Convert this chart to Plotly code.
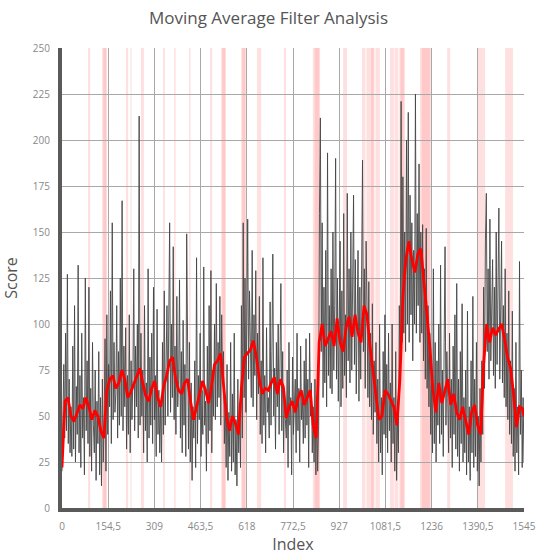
import plotly.graph_objects as go

# ---------------- data ----------------
raw_step = 3
raw_scores = [
    20, 45, 78, 38, 95, 42, 127, 35, 70, 30,
    55, 28, 88, 32, 110, 25, 66, 40, 132, 30,
    72, 22, 95, 38, 60, 18, 125, 42, 80, 35,
    120, 28, 65, 20, 90, 45, 30, 75, 15, 58,
    35, 85, 18, 60, 12, 70, 25, 48, 92, 20,
    105, 40, 78, 55, 118, 35, 155, 48, 90, 52,
    62, 110, 38, 85, 45, 125, 50, 167, 42, 88,
    55, 98, 32, 72, 40, 105, 30, 80, 48, 70,
    130, 42, 88, 55, 100, 38, 213, 45, 95, 50,
    75, 30, 110, 42, 68, 25, 130, 38, 82, 45,
    95, 35, 120, 48, 72, 28, 108, 40, 64, 30,
    58, 25, 90, 40, 118, 45, 75, 110, 50, 98,
    155, 52, 100, 60, 142, 48, 88, 40, 115, 55,
    70, 124, 38, 85, 30, 102, 45, 78, 28, 149,
    60, 32, 90, 25, 68, 15, 55, 38, 80, 22,
    136, 35, 72, 48, 95, 28, 64, 40, 131, 45,
    58, 20, 88, 35, 110, 42, 129, 30, 75, 50,
    100, 48, 122, 55, 90, 60, 115, 45, 105, 68,
    85, 35, 60, 22, 78, 15, 52, 28, 90, 20,
    62, 25, 95, 18, 48, 12, 70, 30, 55, 22,
    110, 38, 155, 60, 125, 52, 100, 157, 70, 118,
    90, 60, 140, 55, 105, 72, 129, 48, 95, 62,
    115, 40, 80, 35, 136, 45, 72, 30, 98, 52,
    60, 38, 112, 45, 85, 138, 50, 76, 32, 90,
    55, 100, 40, 70, 122, 42, 85, 30, 65, 48,
    38, 75, 22, 90, 45, 60, 18, 82, 40, 55,
    70, 30, 95, 42, 65, 25, 88, 48, 60, 35,
    80, 38, 92, 45, 70, 22, 95, 50, 68, 30,
    55, 25, 70, 18, 60, 20, 45, 160, 212, 85,
    155, 60, 120, 68, 140, 55, 193, 72, 110, 65,
    130, 62, 150, 75, 110, 190, 70, 125, 58, 100,
    145, 55, 118, 65, 160, 72, 105, 60, 171, 80,
    130, 68, 150, 75, 115, 170, 78, 135, 62, 110,
    140, 58, 120, 70, 155, 189, 85, 130, 65, 145,
    110, 60, 123, 55, 95, 48, 111, 40, 80, 52,
    90, 35, 70, 25, 100, 30, 60, 18, 85, 40,
    105, 38, 78, 30, 95, 42, 68, 25, 100, 35,
    60, 20, 85, 15, 50, 30, 110, 75, 221, 90,
    180, 95, 150, 85, 200, 100, 215, 90, 170, 105,
    155, 80, 140, 100, 225, 95, 160, 110, 187, 90,
    150, 95, 154, 80, 130, 70, 152, 65, 110, 55,
    95, 40, 75, 30, 130, 35, 90, 25, 80, 45,
    100, 35, 132, 40, 75, 28, 90, 142, 45, 85,
    60, 30, 95, 38, 70, 22, 88, 40, 105, 32,
    122, 28, 70, 20, 85, 35, 111, 25, 60, 30,
    75, 18, 107, 25, 55, 15, 80, 30, 115, 22,
    70, 28, 90, 20, 50, 12, 65, 25, 80, 40,
    120, 65, 145, 171, 85, 130, 70, 157, 80, 110,
    135, 72, 120, 65, 150, 78, 115, 163, 70, 125,
    145, 68, 110, 60, 130, 55, 95, 48, 118, 40,
    80, 35, 107, 28, 65, 20, 90, 30, 55, 18,
    134, 40, 75, 22, 60, 25,
]
raw_index = [i * raw_step for i in range(len(raw_scores))]

avg_index = list(range(0, 1541, 10)) + [1545]
avg_scores = [
    22, 58, 60, 50, 47, 52, 56, 54, 60, 55,
    48, 53, 50, 42, 38, 64, 70, 72, 65, 68,
    75, 70, 60, 63, 67, 72, 76, 68, 61, 58,
    65, 69, 60, 55, 66, 72, 80, 82, 70, 64,
    62, 68, 70, 58, 48, 55, 62, 69, 64, 57,
    66, 78, 80, 84, 67, 50, 42, 50, 46, 40,
    65, 82, 84, 86, 91, 82, 70, 62, 65, 64,
    68, 71, 62, 70, 66, 49, 55, 58, 52, 60,
    64, 56, 60, 64, 45, 38, 90, 100, 88, 92,
    96, 88, 103, 90, 85, 98, 104, 93, 105, 95,
    90, 110, 105, 88, 75, 62, 48, 50, 64, 62,
    58, 55, 45, 70, 115, 135, 145, 135, 128, 138,
    141, 125, 106, 88, 65, 52, 68, 57, 64, 70,
    56, 62, 52, 48, 55, 47, 40, 52, 56, 45,
    40, 78, 100, 90, 98, 94, 97, 100, 92, 82,
    76, 62, 44, 55, 54, 50,
]

band_start = [87, 134, 138, 214, 229, 264, 338, 375, 425, 495, 532, 536,
              599, 603, 652, 742, 839, 845, 940, 1003, 1018, 1030, 1034,
              1048, 1097, 1112, 1128, 1132, 1197, 1203, 1288, 1391, 1482]
band_end = [94, 150, 148, 221, 233, 274, 344, 380, 430, 502, 548, 546,
            615, 613, 666, 749, 863, 860, 953, 1015, 1030, 1045, 1042,
            1063, 1110, 1125, 1147, 1143, 1237, 1230, 1298, 1415, 1508]

x_tick_vals = [0, 154.5, 309, 463.5, 618, 772.5, 927, 1081.5, 1236, 1390.5, 1545]
x_tick_text = ["0", "154,5", "309", "463,5", "618", "772,5", "927", "1081,5",
               "1236", "1390,5", "1545"]
y_tick_vals = [0, 25, 50, 75, 100, 125, 150, 175, 200, 225, 250]

# ---------------- figure ----------------
fig = go.Figure()

fig.add_trace(go.Scatter(
    x=raw_index, y=raw_scores, mode="lines",
    line=dict(color="rgba(70,70,70,0.9)", width=1),
    showlegend=False, hoverinfo="skip",
))
fig.add_trace(go.Scatter(
    x=avg_index, y=avg_scores, mode="lines",
    line=dict(color="#ff0000", width=2.8),
    showlegend=False, hoverinfo="skip",
))

for s, e in zip(band_start, band_end):
    fig.add_shape(type="rect", xref="x", yref="y", x0=s, x1=e, y0=0, y1=250,
                  fillcolor="rgba(255,130,130,0.25)", line=dict(width=0),
                  layer="below")

font_family = "Open Sans, Lato, DejaVu Sans, sans-serif"

fig.update_layout(
    width=537, height=557,
    margin=dict(l=62, r=13, t=48, b=49),
    paper_bgcolor="white", plot_bgcolor="white",
    title=dict(text="Moving Average Filter Analysis", x=0.5, xanchor="center",
               y=0.967, yanchor="middle",
               font=dict(family=font_family, size=17, color="#555555")),
    font=dict(family=font_family, color="#777777"),
)

fig.update_xaxes(
    range=[0, 1545], tickvals=x_tick_vals, ticktext=x_tick_text,
    tickfont=dict(size=10, color="#888888"),
    showgrid=True, gridcolor="#a8a8a8", gridwidth=1,
    zeroline=False, showline=True, linecolor="#5a5a5a", linewidth=4,
    ticks="outside", ticklen=6, tickcolor="rgba(0,0,0,0)",
    automargin=False,
    title=dict(text="Index", font=dict(size=16, color="#555555"), standoff=6),
)
fig.update_yaxes(
    range=[0, 250], tickvals=y_tick_vals,
    tickfont=dict(size=10, color="#888888"),
    showgrid=True, gridcolor="#a8a8a8", gridwidth=1,
    zeroline=False, showline=True, linecolor="#5a5a5a", linewidth=4,
    ticks="outside", ticklen=6, tickcolor="rgba(0,0,0,0)",
    automargin=False,
    title=dict(text="Score", font=dict(size=16, color="#555555"), standoff=12),
)

fig.write_html("out.html")
